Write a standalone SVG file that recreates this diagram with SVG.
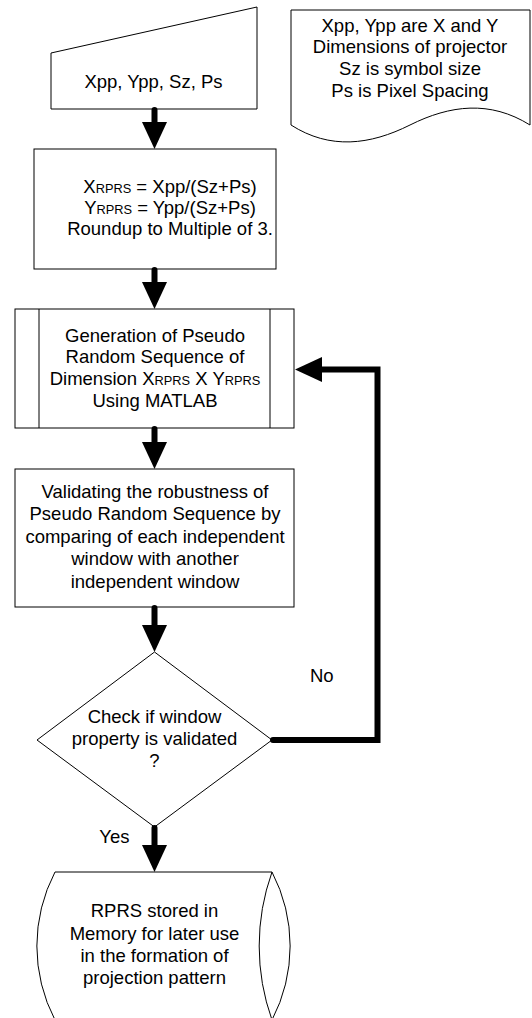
<svg xmlns="http://www.w3.org/2000/svg" width="532" height="1018" viewBox="0 0 532 1018">
<defs>
<style>
.shape{fill:#fff;stroke:#000;stroke-width:1}
.t{font-family:"Liberation Sans",Arial,sans-serif;font-size:18.5px;fill:#000;text-anchor:middle}
.l{font-family:"Liberation Sans",Arial,sans-serif;font-size:18.5px;fill:#000}
.s{font-size:12.8px}
.conn{fill:none;stroke:#000;stroke-width:6;stroke-linecap:round;stroke-linejoin:miter}
</style>
<marker id="ah" markerUnits="userSpaceOnUse" markerWidth="28" markerHeight="26" refX="7" refY="12.5" orient="auto">
<path d="M0,0 L27,12.5 L0,25 Z" fill="#000"/>
</marker>
</defs>
<rect width="532" height="1018" fill="#fff"/>

<g id="input">
<path class="shape" d="M51,53 L257,7 V109 H51 Z"/>
<text class="t" x="153.5" y="88.3">Xpp, Ypp, Sz, Ps</text>
</g>

<g id="note">
<path class="shape" d="M291,10 H530 V125 C490,100 450,105 410,125 C370,145 330,150 291,125 Z"/>
<text class="t" x="410" y="31.7">Xpp, Ypp are X and Y</text>
<text class="t" x="410" y="53.3">Dimensions of projector</text>
<text class="t" x="410" y="75">Sz is symbol size</text>
<text class="t" x="410" y="96.7">Ps is Pixel Spacing</text>
</g>

<g id="compute">
<rect class="shape" x="34" y="149" width="242" height="120"/>
<text class="t" x="170" y="192.5">X<tspan class="s">RPRS</tspan> = Xpp/(Sz+Ps)</text>
<text class="t" x="170" y="213.5">Y<tspan class="s">RPRS</tspan> = Ypp/(Sz+Ps)</text>
<text class="t" x="170" y="234.8">Roundup to Multiple of 3.</text>
</g>

<g id="generate">
<rect class="shape" x="15" y="309" width="279" height="119"/>
<line class="shape" x1="39" y1="309" x2="39" y2="428"/>
<line class="shape" x1="270" y1="309" x2="270" y2="428"/>
<text class="t" x="155" y="341.7">Generation of Pseudo</text>
<text class="t" x="155" y="363.2">Random Sequence of</text>
<text class="t" x="155" y="385">Dimension X<tspan class="s">RPRS</tspan> X Y<tspan class="s">RPRS</tspan></text>
<text class="t" x="155" y="406.7">Using MATLAB</text>
</g>

<g id="validate">
<rect class="shape" x="15" y="469" width="279" height="138"/>
<text class="t" x="155" y="497.7">Validating the robustness of</text>
<text class="t" x="155" y="520.2">Pseudo Random Sequence by</text>
<text class="t" x="155" y="542.7">comparing of each independent</text>
<text class="t" x="155" y="565.2">window with another</text>
<text class="t" x="155" y="587.7">independent window</text>
</g>

<g id="decision">
<path class="shape" d="M154.5,652 L272,740 L154.5,827 L37,740 Z"/>
<text class="t" x="154.5" y="722.7">Check if window</text>
<text class="t" x="154.5" y="745">property is validated</text>
<text class="t" x="154.5" y="766.7">?</text>
</g>

<g id="stored">
<path class="shape" d="M55,872 H272 A220,220 0 0 0 272,1020 H55 A160,160 0 0 1 55,872 Z"/>
<path class="shape" fill="none" d="M272,872 A160,160 0 0 1 272,1020"/>
<text class="t" x="154.5" y="917.3">RPRS stored in</text>
<text class="t" x="154.5" y="940">Memory for later use</text>
<text class="t" x="154.5" y="962.3">in the formation of</text>
<text class="t" x="154.5" y="984.3">projection pattern</text>
</g>

<g id="connectors">
<line class="conn" x1="154.5" y1="110" x2="154.5" y2="129" marker-end="url(#ah)"/>
<line class="conn" x1="154.5" y1="270" x2="154.5" y2="289" marker-end="url(#ah)"/>
<line class="conn" x1="154.5" y1="429" x2="154.5" y2="449" marker-end="url(#ah)"/>
<line class="conn" x1="154.5" y1="608" x2="154.5" y2="632" marker-end="url(#ah)"/>
<line class="conn" x1="154.5" y1="828" x2="154.5" y2="852" marker-end="url(#ah)"/>
<path class="conn" d="M273,740 H377.5 V369.5 H315" marker-end="url(#ah)"/>
<text class="l" x="310" y="681.7">No</text>
<text class="l" x="99.3" y="842.7">Yes</text>
</g>
</svg>
